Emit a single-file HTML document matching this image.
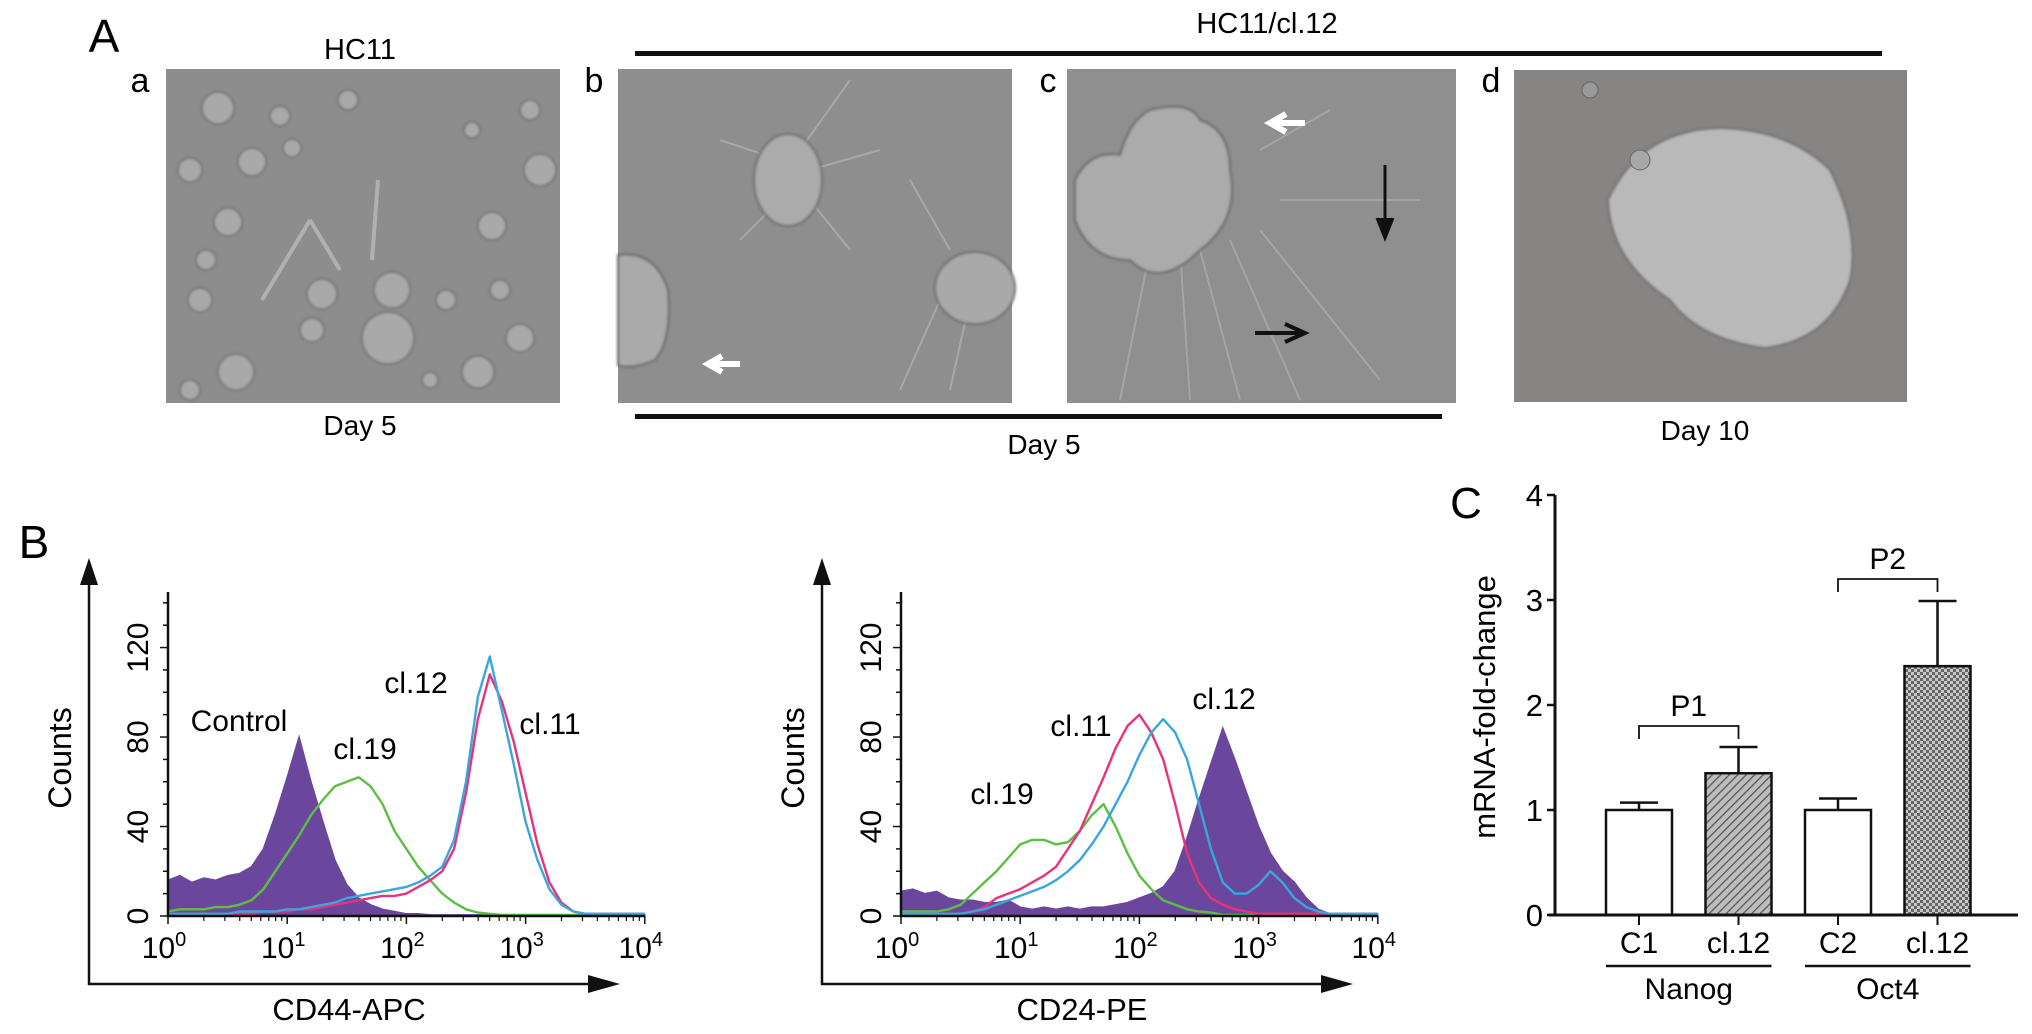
<!DOCTYPE html>
<html><head><meta charset="utf-8"><style>
html,body{margin:0;padding:0;background:#fff;}
svg{display:block;font-family:"Liberation Sans",Arial,sans-serif;}
</style></head><body>
<svg id="fig" width="2032" height="1034" viewBox="0 0 2032 1034">
<defs>
<pattern id="hatch" width="6" height="6" patternUnits="userSpaceOnUse" patternTransform="rotate(45)">
<rect width="6" height="6" fill="#bdbdbd"/><line x1="0" y1="0" x2="0" y2="6" stroke="#555" stroke-width="2.5"/></pattern>
<pattern id="checker" width="6" height="6" patternUnits="userSpaceOnUse">
<rect width="6" height="6" fill="#c8c8c8"/><rect width="3" height="3" fill="#666"/><rect x="3" y="3" width="3" height="3" fill="#666"/></pattern>
<filter id="blur1"><feGaussianBlur stdDeviation="1.2"/></filter>
</defs>

<!-- Panel A -->
<g>
<text x="104" y="52" font-size="46" text-anchor="middle">A</text>
<text x="360" y="59" font-size="29" text-anchor="middle">HC11</text>
<text x="1267" y="33" font-size="29" text-anchor="middle">HC11/cl.12</text>
<rect x="635" y="51" width="1247" height="5" fill="#111"/>
<rect x="635" y="414" width="807" height="5" fill="#111"/>
<text x="140" y="92" font-size="34" text-anchor="middle">a</text>
<text x="594" y="92" font-size="34" text-anchor="middle">b</text>
<text x="1048" y="92" font-size="34" text-anchor="middle">c</text>
<text x="1491" y="92" font-size="34" text-anchor="middle">d</text>

<g>
<rect x="166" y="69" width="394" height="334" fill="#8d8d8d"/>
<g fill="#a9a9a9" stroke="#6a6a6a" stroke-width="1.5" filter="url(#blur1)">
<circle cx="218" cy="108" r="16"/><circle cx="280" cy="116" r="10"/><circle cx="348" cy="100" r="10"/><circle cx="190" cy="170" r="12"/>
<circle cx="252" cy="162" r="14"/><circle cx="292" cy="148" r="9"/><circle cx="228" cy="222" r="14"/><circle cx="206" cy="260" r="10"/>
<circle cx="200" cy="300" r="12"/><circle cx="322" cy="294" r="15"/><circle cx="312" cy="330" r="12"/><circle cx="392" cy="290" r="18"/>
<circle cx="388" cy="338" r="26"/><circle cx="446" cy="300" r="10"/><circle cx="492" cy="226" r="14"/><circle cx="500" cy="290" r="10"/>
<circle cx="520" cy="338" r="14"/><circle cx="478" cy="372" r="16"/><circle cx="540" cy="170" r="16"/><circle cx="530" cy="110" r="10"/>
<circle cx="472" cy="130" r="8"/><circle cx="236" cy="372" r="18"/><circle cx="190" cy="390" r="10"/><circle cx="430" cy="380" r="8"/>
</g>
<path d="M310 220 L280 270 L262 300 M310 220 L340 270 M378 180 L372 260" stroke="#b0b0b0" stroke-width="4" fill="none"/>
</g>

<g>
<rect x="618" y="69" width="394" height="334" fill="#8e8e8e"/>
<path d="M780 160 L720 140 M800 150 L850 80 M810 170 L880 150 M780 200 L740 240 M810 200 L850 250 M950 250 L910 180 M970 300 L950 390 M940 300 L900 390" stroke="#a8a8a8" stroke-width="2" fill="none"/>
<ellipse cx="788" cy="180" rx="34" ry="46" fill="#ababab" stroke="#6a6a6a" stroke-width="2" filter="url(#blur1)"/>
<path d="M618 255 Q655 250 668 290 Q672 340 655 360 Q630 370 618 365 Z" fill="#aaaaaa" stroke="#666" stroke-width="2" filter="url(#blur1)"/>
<ellipse cx="975" cy="288" rx="40" ry="36" fill="#a9a9a9" stroke="#6a6a6a" stroke-width="2" filter="url(#blur1)"/>
<path d="M740 364 L710 364 M722 356 L708 364 L722 372" stroke="#fff" stroke-width="6" fill="none"/>
</g>

<g>
<rect x="1067" y="69" width="389" height="334" fill="#8f8f8f"/>
<path d="M1150 250 L1120 400 M1180 250 L1190 400 M1200 250 L1240 400 M1230 240 L1300 400 M1260 230 L1380 380 M1280 200 L1420 200 M1260 150 L1330 110" stroke="#a5a5a5" stroke-width="2" fill="none"/>
<path d="M1075 180 Q1090 150 1120 155 Q1130 120 1150 110 Q1190 100 1200 120 Q1230 130 1230 170 Q1240 220 1200 250 Q1160 290 1130 260 Q1090 260 1075 220 Z" fill="#ababab" stroke="#666" stroke-width="2" filter="url(#blur1)"/>
<path d="M1305 123 L1272 123 M1286 114 L1270 123 L1286 132" stroke="#fff" stroke-width="6" fill="none"/>
<path d="M1385 165 L1385 235 M1377 218 L1385 238 L1393 218" stroke="#111" stroke-width="3" fill="#111"/>
<path d="M1255 333 L1300 333 M1285 324 L1305 333 L1285 342" stroke="#111" stroke-width="4" fill="none"/>
</g>

<g>
<rect x="1514" y="70" width="393" height="332" fill="#878484"/>
<path d="M1608 200 Q1640 130 1720 128 Q1790 130 1830 170 Q1860 230 1850 280 Q1830 340 1765 348 Q1700 340 1670 300 Q1610 260 1608 200 Z" fill="#b9b9b9" stroke="#6d6d6d" stroke-width="2" filter="url(#blur1)"/>
<circle cx="1640" cy="160" r="10" fill="#a8a8a8" stroke="#666"/>
<circle cx="1590" cy="90" r="8" fill="#9a9a9a" stroke="#666"/>
</g>

<text x="360" y="435" font-size="28" text-anchor="middle">Day 5</text>
<text x="1044" y="454" font-size="28" text-anchor="middle">Day 5</text>
<text x="1705" y="440" font-size="28" text-anchor="middle">Day 10</text>
</g>

<!-- Panel B -->
<text x="34" y="558" font-size="46" text-anchor="middle">B</text>
<g id="flowLeft"></g>
<g id="flowRight"></g>

<!-- Panel C -->
<g id="barC">
<text x="1466" y="518" font-size="44" text-anchor="middle">C</text>
</g>
</svg>
<script>
// ===== Flow histogram data (x = log10 fluorescence bins 0.0..4.0 step 0.1) =====
var logBins = [0,0.1,0.2,0.3,0.4,0.5,0.6,0.7,0.8,0.9,1.0,1.1,1.2,1.3,1.4,1.5,1.6,1.7,1.8,1.9,2.0,2.1,2.2,2.3,2.4,2.5,2.6,2.7,2.8,2.9,3.0,3.1,3.2,3.3,3.4,3.5,3.6,3.7,3.8,3.9,4.0];
var cd44Control = [16,18,15,17,16,18,19,22,30,45,62,80,60,42,25,14,8,5,3,2,1,1,0.5,0.5,0.5,0.5,0.5,0.5,0.5,0.5,0.5,0.5,0.5,0.5,0.5,0.5,0.5,0.5,0.5,0.5,0.5];
var cd44Cl19 = [2,3,3,3,4,4,5,7,12,20,28,36,45,52,58,60,62,58,50,38,30,22,16,10,6,3,1.5,1,0.5,0.5,0.5,0.5,0.5,0.5,0.5,0.5,0.5,0.5,0.5,0.5,0.5];
var cd44Cl12 = [1,1,1,1,1,1,2,2,2,2,3,3,4,5,6,8,9,10,11,12,13,15,18,22,34,60,98,116,92,68,42,25,12,5,2,1,1,1,1,1,1];
var cd44Cl11 = [1,1,1,1,1,1,1,1,2,2,2,3,3,4,5,6,7,8,9,9,10,13,16,20,30,55,88,108,96,78,55,32,15,6,2,1,1,1,1,1,1];
var cd24Control = [11,12,10,11,8,7,7,6,6,7,4,3,4,3,4,3,4,4,5,6,8,10,13,20,35,52,68,84,70,55,40,28,20,15,8,3,1,0.5,0.5,0.5,0.5];
var cd24Cl19 = [2,2,2,2,3,5,10,15,20,26,32,34,34,32,33,38,45,50,40,28,18,12,7,5,3,2,1.5,0.5,0.5,0.5,0.5,0.5,0.5,0.5,0.5,0.5,0.5,0.5,0.5,0.5,0.5];
var cd24Cl11 = [1,1,1,1,1,1,2,4,8,10,12,15,18,22,30,38,50,62,75,85,90,82,70,50,28,15,8,5,3,2,1,1,1,1,1,1,1,1,1,1,1];
var cd24Cl12 = [1,1,1,1,1,1,2,3,5,7,9,11,13,16,20,25,32,40,50,60,72,82,88,82,70,50,30,15,10,10,14,20,15,8,4,2,1,1,1,1,1];
var decadeTicks = [0,1,2,3,4];
var countTicks = [0,40,80,120];

var NS = "http://www.w3.org/2000/svg";
function mk(tag, attrs, parent){var e=document.createElementNS(NS,tag);for(var k in attrs)e.setAttribute(k,attrs[k]);parent.appendChild(e);return e;}

var COL = {purple:"#6a479c", green:"#5cbf45", pink:"#e8327c", blue:"#3aa6de"};

function drawFlow(gid, ox, xTitle, control, series, labels){
  var g = document.getElementById(gid);
  var y0 = 916, pxPerCount = 2.237, pxPerDec = 119.2;
  function X(l){return ox + l*pxPerDec;}
  function Y(c){return y0 - c*pxPerCount;}
  // filled control
  var d = "M"+X(logBins[0])+","+Y(0);
  for (var i=0;i<logBins.length;i++) d += " L"+X(logBins[i]).toFixed(1)+","+Y(control[i]).toFixed(1);
  d += " L"+X(logBins[logBins.length-1])+","+Y(0)+" Z";
  var p = mk("path",{d:d, fill:COL.purple, stroke:COL.purple, "stroke-width":1.5}, g);
  
  
  series.forEach(function(s){
    var pts = logBins.map(function(l,i){return X(l).toFixed(1)+","+Y(s.vals[i]).toFixed(1);}).join(" ");
    var pl = mk("polyline",{points:pts, fill:"none", stroke:s.color, "stroke-width":2.4, "stroke-linejoin":"round"}, g);
    
    
  });
  // axes
  var ax = mk("path",{d:"M"+ox+",592 L"+ox+","+y0+" L"+X(4)+","+y0, fill:"none", stroke:"#111","stroke-width":2.5}, g);
  
  
  // y ticks
  for (var c=0;c<=140;c+=10){
    var t = mk("line",{x1:ox-(c%40===0?8:5), x2:ox, y1:Y(c), y2:Y(c), stroke:"#111","stroke-width":1.5}, g);
    
    
  }
  countTicks.forEach(function(c){
    var tx = mk("text",{x:0,y:0,"font-size":30,"text-anchor":"middle",transform:"translate("+(ox-20)+","+Y(c)+") rotate(-90)"}, g);
    tx.textContent = c;
    
    
  });
  // x ticks
  decadeTicks.forEach(function(dk){
    var t = mk("line",{x1:X(dk),x2:X(dk),y1:y0,y2:y0+8,stroke:"#111","stroke-width":1.5}, g);
    
    
    if (dk<4) for (var m=2;m<10;m++){
      var xm = X(dk+Math.log10(m));
      var tm = mk("line",{x1:xm,x2:xm,y1:y0,y2:y0+5,stroke:"#111","stroke-width":1.2}, g);
      
      
    }
    var tx = mk("text",{x:X(dk)-4,y:958,"font-size":30,"text-anchor":"middle"}, g);
    
    
    tx.appendChild(document.createTextNode("10"));
    var sp = mk("tspan",{dy:-12,"font-size":20}, tx);
    sp.textContent = dk;
  });
  // outer arrows
  var ay = mk("path",{d:"M"+(ox-79)+",985 L"+(ox-79)+",580", stroke:"#111","stroke-width":2.5, fill:"none"}, g);
  
  
  var ah = mk("polygon",{points:(ox-88)+",585 "+(ox-79)+",558 "+(ox-70)+",585", fill:"#111"}, g);
  
  
  var axx = mk("path",{d:"M"+(ox-80)+",984 L"+(ox+425)+",984", stroke:"#111","stroke-width":2.5, fill:"none"}, g);
  
  
  var ah2 = mk("polygon",{points:(ox+420)+",975 "+(ox+452)+",984 "+(ox+420)+",993", fill:"#111"}, g);
  
  
  var yt = mk("text",{x:0,y:0,"font-size":32,"text-anchor":"middle",transform:"translate("+(ox-97)+",758) rotate(-90)"}, g);
  yt.textContent = "Counts";
  
  
  var xt = mk("text",{x:ox+181,y:1020,"font-size":31,"text-anchor":"middle"}, g);
  xt.textContent = xTitle;
  
  
  labels.forEach(function(L){
    var lt = mk("text",{x:ox+L[1],y:L[2],"font-size":30,"text-anchor":"middle"}, g);
    lt.textContent = L[0];
    
    
  });
}

drawFlow("flowLeft", 168, "CD44-APC", cd44Control,
  [{name:"cl19-line",color:COL.green,vals:cd44Cl19},{name:"cl11-line",color:COL.pink,vals:cd44Cl11},{name:"cl12-line",color:COL.blue,vals:cd44Cl12}],
  [["Control",71,731],["cl.19",197,759],["cl.12",248,693],["cl.11",382,734]]);
drawFlow("flowRight", 901, "CD24-PE", cd24Control,
  [{name:"cl19-line",color:COL.green,vals:cd24Cl19},{name:"cl11-line",color:COL.pink,vals:cd24Cl11},{name:"cl12-line",color:COL.blue,vals:cd24Cl12}],
  [["cl.19",101,804],["cl.11",180,736],["cl.12",323,709]]);

// ===== Panel C bar chart =====
var barCats = ["C1","cl.12","C2","cl.12"];
var barVals = [1.0,1.35,1.0,2.37];
var barErrs = [0.07,0.25,0.11,0.62];
var barFills = ["#fff","url(#hatch)","#fff","url(#checker)"];
var yTicksC = [0,1,2,3,4];
var groupNames = ["Nanog","Oct4"];
var pLabels = ["P1","P2"];
var pLevels = [1.8,3.2];

(function(){
  var g = document.getElementById("barC");
  var y0=915, ppu=105, xStart=1606, step=99.5, bw=66;
  function Y(v){return y0 - v*ppu;}
  function BX(i){return xStart + i*step;}
  barVals.forEach(function(v,i){
    var r = mk("rect",{x:BX(i),y:Y(v),width:bw,height:y0-Y(v),fill:barFills[i],stroke:"#111","stroke-width":2.5}, g);
    
    
    var cx = BX(i)+bw/2, top = Y(v+barErrs[i]);
    var e = mk("path",{d:"M"+cx+","+Y(v)+" L"+cx+","+top+" M"+(cx-19)+","+top+" L"+(cx+19)+","+top, stroke:"#111","stroke-width":2.5,fill:"none"}, g);
    
    
    var tk = mk("line",{x1:cx,x2:cx,y1:y0,y2:y0+10,stroke:"#111","stroke-width":2}, g);
    
    
    var tl = mk("text",{x:cx,y:953,"font-size":30,"text-anchor":"middle"}, g);
    tl.textContent = barCats[i];
    
    
  });
  var ax = mk("path",{d:"M1555,495 L1555,"+y0+" M1549,"+y0+" L2018,"+y0, stroke:"#111","stroke-width":3,fill:"none"}, g);
  
  
  yTicksC.forEach(function(v){
    var t = mk("line",{x1:1547,x2:1555,y1:Y(v),y2:Y(v),stroke:"#111","stroke-width":2.5}, g);
    
    
    var tl = mk("text",{x:1543,y:Y(v)+11,"font-size":31,"text-anchor":"end"}, g);
    tl.textContent = v;
    
    
  });
  var yl = mk("text",{x:0,y:0,"font-size":31,"text-anchor":"middle",transform:"translate(1495,707) rotate(-90)"}, g);
  yl.textContent = "mRNA-fold-change";
  
  
  groupNames.forEach(function(n,k){
    var x1 = BX(2*k), x2 = BX(2*k+1)+bw;
    var u = mk("line",{x1:x1,x2:x2,y1:966,y2:966,stroke:"#111","stroke-width":2.5}, g);
    
    
    var t = mk("text",{x:(x1+x2)/2,y:999,"font-size":30,"text-anchor":"middle"}, g);
    t.textContent = n;
    
    
    var c1 = BX(2*k)+bw/2, c2 = BX(2*k+1)+bw/2, yb = Y(pLevels[k]);
    var b = mk("path",{d:"M"+c1+","+(yb+13)+" L"+c1+","+yb+" L"+c2+","+yb+" L"+c2+","+(yb+13), stroke:"#111","stroke-width":1.8,fill:"none"}, g);
    
    
    var pt = mk("text",{x:(c1+c2)/2,y:yb-10,"font-size":30,"text-anchor":"middle"}, g);
    pt.textContent = pLabels[k];
    
    
  });
})();
</script>
</body></html>
